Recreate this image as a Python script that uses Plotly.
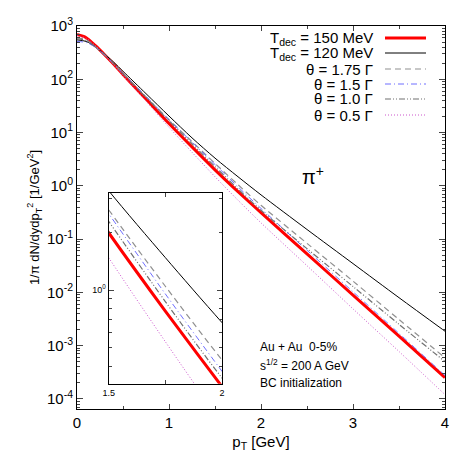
import plotly.graph_objects as go

# pT grid [GeV]
pt = [0.0, 0.1, 0.2, 0.3, 0.4, 0.5, 0.75, 1.0, 1.25, 1.5, 1.75, 2.0, 2.5, 3.0, 3.5, 4.0]

# log10 of 1/pi dN/dydpT^2
log_t150 = [2.84, 2.78, 2.63, 2.46, 2.28, 2.09, 1.63, 1.17, 0.73, 0.30, -0.11, -0.505, -1.28, -2.05, -2.82, -3.60]
log_t120 = [2.74, 2.71, 2.61, 2.47, 2.32, 2.15, 1.73, 1.31, 0.90, 0.52, 0.17, -0.17, -0.82, -1.46, -2.10, -2.73]
log_th175 = [2.78, 2.74, 2.61, 2.46, 2.29, 2.11, 1.67, 1.24, 0.83, 0.42, 0.02, -0.365, -1.08, -1.79, -2.51, -3.23]
log_th150 = [2.71, 2.69, 2.60, 2.45, 2.29, 2.11, 1.68, 1.24, 0.82, 0.40, -0.02, -0.425, -1.21, -1.99, -2.77, -3.56]
log_th100 = [2.76, 2.73, 2.61, 2.46, 2.29, 2.10, 1.66, 1.22, 0.79, 0.36, -0.06, -0.46, -1.18, -1.89, -2.60, -3.30]
log_th050 = [2.82, 2.77, 2.63, 2.46, 2.27, 2.07, 1.59, 1.10, 0.63, 0.17, -0.27, -0.695, -1.50, -2.31, -3.11, -3.92]

series = [
    ("T<sub>dec</sub> = 150 MeV", log_t150, "#ff0000", 3, "solid"),
    ("T<sub>dec</sub> = 120 MeV", log_t120, "#000000", 1, "solid"),
    ("θ = 1.75 Γ", log_th175, "#909090", 1.2, "6px,4px"),
    ("θ = 1.5 Γ", log_th150, "#6f6fff", 1, "6px,3px,1px,3px"),
    ("θ = 1.0 Γ", log_th100, "#707070", 1.2, "6px,2px,1px,2px,1px,2px"),
    ("θ = 0.5 Γ", log_th050, "#cc55cc", 1, "1px,2px"),
]

yticks = [-4, -3, -2, -1, 0, 1, 2, 3]

fig = go.Figure()

for name, logs, color, width, dash in series:
    yv = [10 ** v for v in logs]
    fig.add_trace(go.Scatter(x=pt, y=yv, mode="lines", name=name, showlegend=False,
                             line=dict(color=color, width=width, dash=dash, shape="spline", smoothing=0.8)))
    # inset copy
    fig.add_trace(go.Scatter(x=pt, y=yv, mode="lines", showlegend=False, xaxis="x2", yaxis="y2",
                             line=dict(color=color, width=width, dash=dash, shape="spline", smoothing=0.8)))

axis_font = dict(family="Liberation Sans, Arial, sans-serif", size=15, color="black")

fig.update_layout(
    width=463, height=463,
    margin=dict(l=69, r=26, t=18, b=62),
    paper_bgcolor="white", plot_bgcolor="white",
    font=axis_font,
    xaxis=dict(range=[0, 4], tickvals=[0, 1, 2, 3, 4], ticks="inside", ticklen=5,
               showline=True, linecolor="black", linewidth=1, mirror="allticks",
               showgrid=False, zeroline=False, automargin=False,
               minor=dict(tickvals=[0.5, 1.5, 2.5, 3.5], ticks="inside", ticklen=3),
               title=dict(text="p<sub>T</sub> [GeV]", font=dict(size=15), standoff=6)),
    yaxis=dict(type="log", range=[-4.19, 3],
               tickvals=[10 ** v for v in yticks],
               ticktext=[f"10<sup>{v}</sup>" for v in yticks],
               ticks="inside", ticklen=6, showline=True, linecolor="black", linewidth=1,
               mirror="allticks", showgrid=False, zeroline=False, automargin=False,
               minor=dict(ticks="inside", ticklen=3, dtick="D1"),
               title=dict(text="1/π dN/dydp<sub>T</sub><sup>2</sup> [1/GeV<sup>2</sup>]",
                          font=dict(size=13), standoff=4)),
    xaxis2=dict(domain=[0.086, 0.394], anchor="y2", range=[1.5, 2],
                tickvals=[1.5, 1.75, 2], ticktext=["1.5", "", "2"], ticks="inside", ticklen=4,
                tickfont=dict(size=9), showline=True, linecolor="black", linewidth=1.2,
                mirror="allticks", showgrid=False, zeroline=False),
    yaxis2=dict(domain=[0.066, 0.565], anchor="x2", type="log", range=[-0.49, 0.51],
                tickvals=[1], ticktext=["10<sup>0</sup>"], ticks="inside", ticklen=5,
                tickfont=dict(size=9), showline=True, linecolor="black", linewidth=1.2,
                mirror="allticks", showgrid=False, zeroline=False,
                minor=dict(ticks="inside", ticklen=3, dtick="D1")),
)

# legend drawn gnuplot style: right aligned text, sample line on the right
leg_y = [30, 45, 61, 76, 91, 107]
for (name, logs, color, width, dash), yy in zip(series, leg_y):
    yp = (401 - yy) / 383
    fig.add_annotation(xref="paper", yref="paper", x=(367 - 69) / 368, y=yp, text=name,
                       showarrow=False, xanchor="right", yanchor="middle",
                       font=dict(size=15))
    fig.add_shape(type="line", xref="paper", yref="paper",
                  x0=(377 - 69) / 368, x1=(418 - 69) / 368, y0=yp, y1=yp,
                  line=dict(color=color, width=width, dash=dash))

fig.add_annotation(xref="paper", yref="paper", x=(318 - 69) / 368, y=(401 - 168) / 383,
                   text="π<sup>+</sup>", showarrow=False, font=dict(size=20))

info = ["Au + Au  0-5%", "s<sup>1/2</sup> = 200 A GeV", "BC initialization"]
info_y = [339, 357, 375]
for t, yy in zip(info, info_y):
    fig.add_annotation(xref="paper", yref="paper", x=(250 - 69) / 368, y=(401 - yy) / 383,
                       text=t, showarrow=False, xanchor="left", yanchor="middle",
                       font=dict(size=12))

fig.write_html("out.html")
